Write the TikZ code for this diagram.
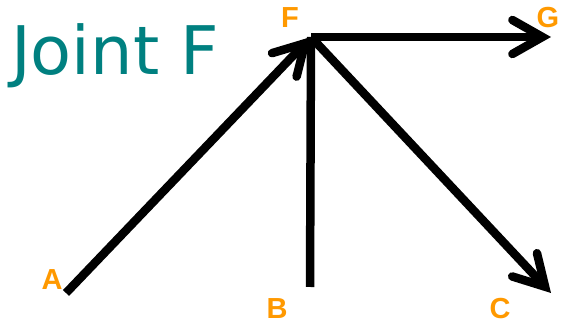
\documentclass[tikz,border=0pt]{standalone}
\usepackage{fontspec}
\setmainfont{Liberation Sans}
\newfontfamily\titlefont{DejaVu Sans}
\usepackage{xcolor}
\usepackage{tikz}
\usetikzlibrary{arrows.meta,positioning}
\definecolor{JointTeal}{HTML}{008080}
\definecolor{JointOrange}{HTML}{FF9900}
\tikzset{
  member/.style={line width=8.5pt,draw=black},
  force/.style={member,-{Straight Barb[length=30pt,width=34pt,line cap=round]}},
  ptlabel/.style={text=JointOrange,font=\fontsize{29}{29}\selectfont\bfseries,inner sep=0pt},
  title/.style={text=JointTeal,font=\titlefont\fontsize{67}{67}\selectfont,inner sep=0pt,anchor=west}
}

\begin{document}
\begin{tikzpicture}[x=1pt,y=1pt]
  \useasboundingbox (0,0) rectangle (562,326);
  \node[title] (ttl) at (11,270) {Joint F};
  \coordinate (F) at (311,289);
  \coordinate (A) at (66,33);
  \coordinate (B) at (310,39);
  \coordinate (C) at (551,33);
  \coordinate (G) at (551,289);
  \node[ptlabel] (lF) at (290,308) {F};
  \node[ptlabel] (lG) at (548,308) {G};
  \node[ptlabel] (lA) at (52,46) {A};
  \node[ptlabel] (lB) at (277,17) {B};
  \node[ptlabel] (lC) at (500,17) {C};
  \draw[member] (B)--(F);
  \draw[force] (A)--(F);
  \draw[force] (F)--(G);
  \draw[force] (F)--(C);
\end{tikzpicture}
\end{document}
